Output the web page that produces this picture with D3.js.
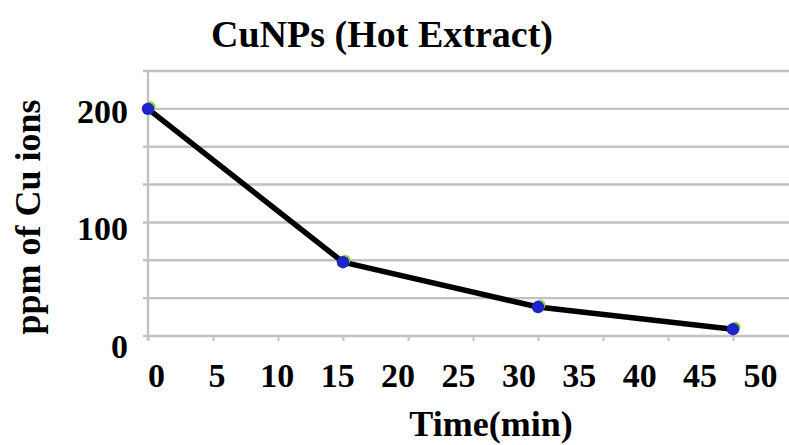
<!DOCTYPE html>
<html>
<head>
<meta charset="utf-8">
<script src="https://cdn.jsdelivr.net/npm/d3@7/dist/d3.min.js"></script>
<style>
  html, body { margin: 0; padding: 0; background: #fff; }
  svg { display: block; }
  text { font-family: "Liberation Serif", "Times New Roman", serif; font-weight: bold; fill: #000; }
</style>
</head>
<body>
<svg id="chart" width="789" height="445"></svg>
<script>
// Cu ion concentration over time, CuNPs synthesised with the hot extract
const times = [0, 15, 30, 45];             // min
const ppm = [200, 65, 25.5, 6];            // ppm of Cu ions
const xTickLabels = [0, 5, 10, 15, 20, 25, 30, 35, 40, 45, 50];
const yTickLabels = [0, 100, 200];
const gridValues = [0, 1, 2, 3, 4, 5, 6, 7].map(i => i * 100 / 3);

const svg = d3.select("#chart");

const x = d3.scaleLinear().domain([0, 50]).range([148, 798]);
const y = d3.scaleLinear().domain([0, 700 / 3]).range([336, 71]);
// the printed tick labels sit on their own slightly different spacing
const xLabel = d3.scaleLinear().domain([0, 50]).range([156, 760]);
const yLabel = d3.scaleLinear().domain([0, 200]).range([357, 122]);

const gridColor = "#c2c2c2";

// horizontal gridlines (with a short outward tick on the left)
svg.append("g")
  .selectAll("line")
  .data(gridValues)
  .join("line")
  .attr("x1", 143).attr("x2", 789)
  .attr("y1", d => y(d)).attr("y2", d => y(d))
  .attr("stroke", gridColor).attr("stroke-width", 2.4);

// vertical axis line
svg.append("line")
  .attr("x1", x(0)).attr("x2", x(0))
  .attr("y1", y(700 / 3)).attr("y2", y(0) + 4)
  .attr("stroke", gridColor).attr("stroke-width", 2.4);

// x-axis tick marks
const xTicks = d3.axisBottom(x).tickValues(xTickLabels).tickSize(5).tickFormat("");
const gx = svg.append("g").attr("transform", `translate(0,${y(0)})`).call(xTicks);
gx.select(".domain").remove();
gx.selectAll(".tick line").attr("stroke", gridColor).attr("stroke-width", 2);

// x-axis labels
const xLab = d3.axisBottom(xLabel).tickValues(xTickLabels).tickSize(0).tickPadding(0);
const gxl = svg.append("g").attr("transform", "translate(0,387)").call(xLab);
gxl.select(".domain").remove();
gxl.selectAll("text")
  .attr("dy", 0).attr("y", 0)
  .style("font-family", "'Liberation Serif', serif")
  .style("font-weight", "bold").style("font-size", "34px").attr("fill", "#000");

// y-axis labels
const yLab = d3.axisLeft(yLabel).tickValues(yTickLabels).tickSize(0).tickPadding(0);
const gyl = svg.append("g").attr("transform", "translate(128,0)").call(yLab);
gyl.select(".domain").remove();
gyl.selectAll("text")
  .attr("dy", 0).attr("x", 0)
  .style("font-family", "'Liberation Serif', serif")
  .style("font-weight", "bold").style("font-size", "34px").attr("fill", "#000");

// data line
const line = d3.line().x((d, i) => x(times[i])).y(d => y(d));
svg.append("path")
  .datum(ppm)
  .attr("d", line)
  .attr("fill", "none")
  .attr("stroke", "#000")
  .attr("stroke-width", 5.5)
  .attr("stroke-linejoin", "round");

// markers
const pts = svg.append("g");
pts.selectAll("circle.under")
  .data(ppm)
  .join("circle")
  .attr("class", "under")
  .attr("cx", (d, i) => x(times[i]) + 2)
  .attr("cy", d => y(d) - 2)
  .attr("r", 5.5)
  .attr("fill", "#8ccf3a");
pts.selectAll("circle.pt")
  .data(ppm)
  .join("circle")
  .attr("class", "pt")
  .attr("cx", (d, i) => x(times[i]))
  .attr("cy", d => y(d))
  .attr("r", 6.2)
  .attr("fill", "#1f24c8");

// titles
svg.append("text")
  .attr("x", 382).attr("y", 47)
  .attr("text-anchor", "middle")
  .style("font-size", "38px")
  .text("CuNPs (Hot Extract)");

svg.append("text")
  .attr("x", 491).attr("y", 436)
  .attr("text-anchor", "middle")
  .style("font-size", "36px")
  .text("Time(min)");

svg.append("text")
  .attr("transform", "translate(40,217) rotate(-90)")
  .attr("text-anchor", "middle")
  .style("font-size", "36px")
  .text("ppm of Cu ions");
</script>
</body>
</html>
